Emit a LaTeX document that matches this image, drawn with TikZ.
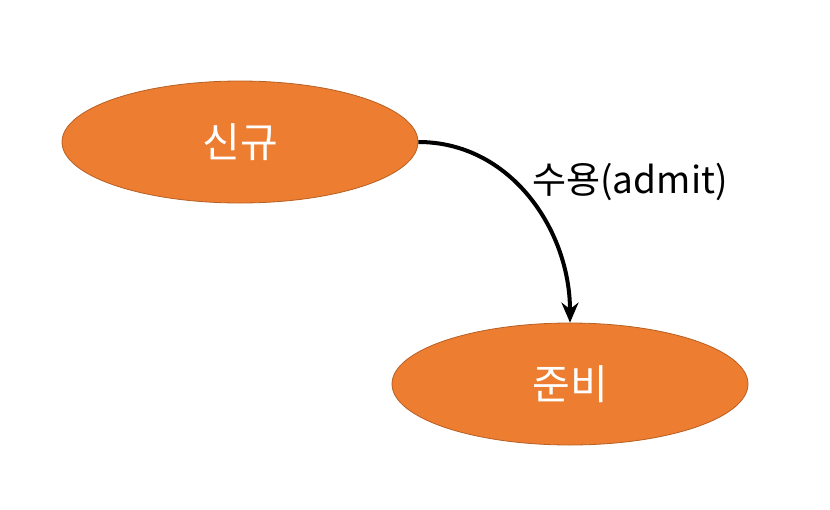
\documentclass[tikz,border=0pt]{standalone}
\usepackage{fontspec}
\setmainfont{Noto Sans CJK KR}
\usetikzlibrary{shapes.geometric,arrows.meta}
\definecolor{orfill}{HTML}{ED7D31}
\definecolor{ordraw}{HTML}{B85F22}
\tikzset{
  state/.style={ellipse, fill=orfill, draw=ordraw, line width=0.8pt,
    minimum width=356pt, minimum height=122pt, inner sep=0pt,
    text=white, font=\fontsize{41}{48}\selectfont},
  conn/.style={line width=4pt, -{Stealth[length=20pt,width=17pt]}},
  lbl/.style={font=\fontsize{37}{44}\selectfont, text=black}
}
\begin{document}
\begin{tikzpicture}[x=1pt,y=-1pt]
\useasboundingbox (0,0) rectangle (830,509);
\node[state] (a) at (240,142) {신규};
\node[state] (b) at (570,384) {준비};
\draw[conn] (a.east) to[out=0,in=90] (b.north);
\node[lbl] (l) at (630,182) {수용(admit)};
\end{tikzpicture}
\end{document}
